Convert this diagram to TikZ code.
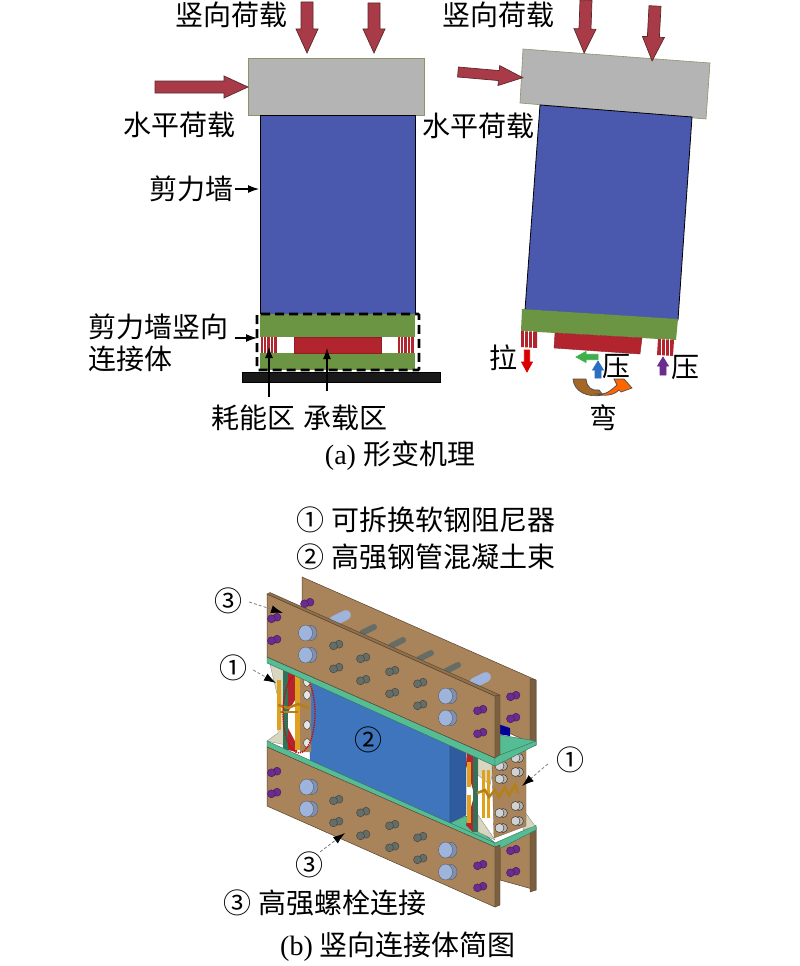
\documentclass[tikz,border=0pt]{standalone}
\usepackage{fontspec}
\setmainfont{Liberation Serif}
\newfontfamily\cjk{Noto Sans CJK SC}
\usetikzlibrary{arrows.meta,calc}
\definecolor{wallblue}{HTML}{4A58AE}
\definecolor{beamgray}{HTML}{B4B4B4}
\definecolor{beamedge}{HTML}{8C9468}
\definecolor{slabgreen}{HTML}{6B9443}
\definecolor{corered}{HTML}{B3252E}
\definecolor{loadred}{HTML}{A83B47}
\definecolor{loadedge}{HTML}{5A2A2A}
\definecolor{plate}{HTML}{A9845A}
\definecolor{plateside}{HTML}{7A6040}
\definecolor{teal}{HTML}{55BC94}
\definecolor{panel}{HTML}{3E75BC}
\definecolor{panelside}{HTML}{2F5C9C}
\definecolor{bpurple}{HTML}{6A2C8E}
\definecolor{bgray}{HTML}{666C66}
\definecolor{blight}{HTML}{9FB4DC}
\definecolor{brass}{HTML}{E0A020}
\definecolor{beige}{HTML}{D8D6BE}
\definecolor{pushgreen}{HTML}{3DB04B}
\definecolor{pushblue}{HTML}{2A6FC0}
\tikzset{
  lab/.style={inner sep=0pt,font=\fontsize{28}{28}\selectfont\cjk},
  labs/.style={inner sep=0pt,font=\fontsize{28}{28}\selectfont},
  thin arrow/.style={line width=1.1pt,-{Latex[length=11pt,width=8pt]}},
  leader/.style={draw=gray,line width=0.8pt,densely dashed,-{Latex[length=12pt,width=8pt,black]}},
  plateface/.style={fill=plate,draw=plateside!70!black,line width=0.5pt},
  sideface/.style={fill=plateside,draw=plateside!70!black,line width=0.4pt},
  greenface/.style={fill=teal,draw=teal!60!black,line width=0.4pt},
}
% tail x, tail y, canvas angle, length, half shaft, half head, head length, fill, draw
\newcommand{\barrow}[9]{%
  \begin{scope}[shift={(#1,#2)},rotate=#3]
    \filldraw[fill=#8,draw=#9,line width=0.7pt] (0,-#5) -- ({#4-#7},-#5) -- ({#4-#7},-#6) -- (#4,0) -- ({#4-#7},#6) -- ({#4-#7},#5) -- (0,#5) -- cycle;
  \end{scope}}
\newcommand{\bolt}[3]{% x,y,colour
  \filldraw[fill=#3,draw=#3!60!black,line width=0.4pt] (#1+3,#2-0.8) ellipse [x radius=4,y radius=4];
  \filldraw[fill=#3,draw=#3!60!black,line width=0.4pt] (#1-2.5,#2+0.8) ellipse [x radius=4,y radius=4];}
\newcommand{\bigbolt}[2]{% x,y
  \filldraw[fill=blight!80!black,draw=gray!70!black,line width=0.4pt] (#1+4,#2) ellipse [x radius=6,y radius=7.5];
  \filldraw[fill=blight,draw=gray!70!black,line width=0.4pt] (#1-1.5,#2) ellipse [x radius=7,y radius=8];}
\newcommand{\dambolt}[2]{% x,y
  \filldraw[fill=gray!60,draw=gray!30!black,line width=0.4pt] (#1+2,#2) ellipse [x radius=4.5,y radius=4.5];
  \filldraw[fill=gray!35,draw=gray!30!black,line width=0.4pt] (#1-1.5,#2) ellipse [x radius=4.5,y radius=4.5];}
\begin{document}
\begin{tikzpicture}[x=1pt,y=-1pt]
\useasboundingbox (0,0) rectangle (800,966);
\fill[white] (0,0) rectangle (800,966);

% ---------- (a) left
\filldraw[fill=beamgray,draw=beamedge,line width=0.6pt] (248,58) rectangle (424,115);
\filldraw[fill=wallblue,draw=black,line width=0.8pt] (260,115) rectangle (415,314);
\fill[slabgreen] (260,314) rectangle (415,337);
\fill[slabgreen] (260,353) rectangle (415,370);
\filldraw[fill=corered,draw=corered!80!black,line width=0.4pt] (294,337) rectangle (381,353);
\fill[corered] (261,337) rectangle (277,353);
\fill[corered] (398,337) rectangle (414,353);
\foreach \sx in {263,266.5,270,273.5,400,403.5,407,410.5}
  \draw[white,line width=1pt] (\sx,337) -- (\sx,353);
\filldraw[fill=black!90,draw=black] (242,372) rectangle (440,382);
\draw[black,line width=2.6pt,dash pattern=on 9pt off 5pt,rounded corners=1pt] (257,314) rectangle (419,370);

\barrow{307}{2}{-90}{51}{6}{11}{24}{loadred}{loadedge}
\barrow{374}{3}{-90}{50}{6}{11}{24}{loadred}{loadedge}
\barrow{155}{87}{0}{93}{6}{11}{24}{loadred}{loadedge}

\node[lab] (va) at (231,15) {竖向荷载};
\node[lab] (ha) at (179,125) {水平荷载};
\node[lab] (sw) at (191,189) {剪力墙};
\node[lab,anchor=west] (c1) at (88,327) {剪力墙竖向};
\node[lab,anchor=west] (c2) at (88,359) {连接体};
\node[lab] (hn) at (253,418) {耗能区};
\node[lab] (cz) at (345,418) {承载区};
\node[labs] (capa) at (400,456) {(a) {\cjk 形变机理}};
\coordinate (swt) at (259,189);
\coordinate (c1t) at (257,338);
\coordinate (hnt) at (269,347);
\coordinate (hnf) at (269,397);
\coordinate (czt) at (327,348);
\coordinate (czf) at (327,391);
\coordinate (c1f) at (235,338);
\draw[thin arrow] (sw.east) ++(2,0) -- (swt);
\draw[thin arrow] (c1f) -- (c1t);
\draw[thin arrow] (hnf) -- (hnt);
\draw[thin arrow] (czf) -- (czt);

% ---------- (a) right
\filldraw[fill=beamgray,draw=beamedge,line width=0.6pt] (523,49) -- (710,63) -- (706,119) -- (520,103) -- cycle;
\filldraw[fill=wallblue,draw=black,line width=0.8pt] (540,105) -- (692,117) -- (678,320) -- (525,310) -- cycle;
\fill[slabgreen] (522,309) -- (678,319) -- (676,340) -- (521,331) -- cycle;
\filldraw[fill=corered,draw=corered!80!black,line width=0.4pt] (555,333) -- (642,338) -- (640,354) -- (554,348) -- cycle;
\fill[corered] (521,331) -- (537,332) -- (537,348) -- (521,347) -- cycle;
\fill[corered] (658,339) -- (674,340) -- (673,356) -- (657,355) -- cycle;
\foreach \sx in {524,528,532}
  \draw[white,line width=1pt] (\sx,331) -- (\sx,348);
\foreach \sx in {661,665,669}
  \draw[white,line width=1pt] (\sx,339) -- (\sx,356);

\barrow{586}{0}{-92}{53}{6}{11}{24}{loadred}{loadedge}
\barrow{655}{6}{-93}{55}{6}{11}{24}{loadred}{loadedge}
\barrow{458}{72}{-5}{65}{5}{10}{24}{loadred}{loadedge}

\barrow{527}{350}{-90}{22}{2.7}{5.5}{10}{red!85!black}{red!85!black}
\barrow{598}{357}{180}{22}{2.7}{5.5}{10}{pushgreen}{pushgreen}
\barrow{598}{378}{90}{17}{3}{5.5}{9}{pushblue}{pushblue}
\barrow{663}{375}{90}{18}{3}{5.5}{9}{bpurple}{bpurple}

\filldraw[fill=brown!75!orange!80!black,draw=black!70,line width=0.7pt] (573,379) -- (586,379) .. controls (587,388) and (592,391) .. (599,390) -- (603,395) .. controls (588,398) and (574,392) .. (573,379) -- cycle;
\filldraw[fill=orange!80!red,draw=black!70,line width=0.7pt] (597,394) .. controls (607,395) and (611,390) .. (617,385) -- (614,379) -- (624,379) -- (632,388) -- (621,392) -- (619,390) .. controls (613,396) and (604,396) .. (597,394) -- cycle;

\node[lab] (vb) at (498,15) {竖向荷载};
\node[lab] (hb) at (478,126) {水平荷载};
\node[lab] (la) at (503,358) {拉};
\node[lab] (ya) at (616,367) {压};
\node[lab] (yb) at (685,368) {压};
\node[lab] (wa) at (603,418) {弯};

% ---------- (b) texts
\node[lab] (t1) at (426,520) {① 可拆换软钢阻尼器};
\node[lab] (t2) at (426,557) {② 高强钢管混凝土束};

% ---------- (b) back plates
\filldraw[plateface] (302,577) -- (536,680) -- (536,745) -- (302,642) -- cycle;
\filldraw[sideface] (530,679) -- (536,680) -- (536,745) -- (530,747) -- cycle;
\bolt{307}{603}{bpurple}
\bolt{513}{696}{bpurple}
\bolt{513}{718}{bpurple}
\filldraw[plateface] (500,847) -- (536,827) -- (536,890) -- (500,880) -- cycle;
\filldraw[sideface] (530,829) -- (536,827) -- (536,890) -- (530,892) -- cycle;
\bolt{513}{850}{bpurple}
\bolt{513}{872}{bpurple}

% rods between plates
\foreach \rx/\ry/\rc/\rw in {340/618/blight/10,368/630/bgray/6,397/643/bgray/6,425/656/bgray/6,452/668/bgray/6,480/680/blight/10}
  \draw[\rc,line width=\rw pt,line cap=round] (\rx-6,\ry+3) -- (\rx+6,\ry-3);

% upper slab top, panel
\filldraw[greenface] (500,735) -- (536,741) -- (495,762) -- (470,750) -- cycle;
\filldraw[fill=blue!60!black,draw=none] (498,724) -- (510,728) -- (510,736) -- (498,734) -- cycle;
\filldraw[fill=panel,draw=panel!70!black,line width=0.4pt] (310,678) -- (450,743) -- (450,823) -- (310,762) -- cycle;
\filldraw[fill=panelside,draw=panelside!70!black,line width=0.4pt] (450,743) -- (466,750) -- (466,815) -- (450,823) -- cycle;

% lower slab top
\filldraw[greenface] (450,823) -- (466,816) -- (480,830) -- (495,843) -- (536,825) -- (536,830) -- (497,850) -- cycle;

% ---------- left damper
\filldraw[fill=beige,draw=gray,line width=0.3pt] (269,660) -- (286,668) -- (286,745) -- (267,741) -- (278,733) -- (278,698) -- cycle;
\fill[teal!60!black] (283,668) rectangle (288,750);
\fill[corered] (288,670) -- (298,674) -- (295,700) -- (288,712) -- cycle;
\fill[corered] (288,728) -- (297,745) -- (297,752) -- (288,750) -- cycle;
\fill[plate] (300,675) -- (311,680) -- (311,752) -- (300,752) -- cycle;
\fill[brass] (277,680) rectangle (281,730);
\fill[brass] (295,673) rectangle (300,750);
\draw[brass!80!black,line width=2.5pt] (278,705) -- (288,708) -- (298,704) -- (309,708);
\draw[brass!80!black,line width=2pt] (280,712) -- (298,712);
\foreach \dy in {682,695,725,743} \filldraw[fill=gray!20,draw=gray!40!black,line width=0.4pt] (307,\dy) ellipse [x radius=3.5,y radius=4.5];
\draw[red!85!black,line width=1.3pt,densely dotted] (299,713) ellipse [x radius=16,y radius=40];

% ---------- right damper
\fill[corered] (467,750) -- (473,753) -- (473,790) -- (466,765) -- cycle;
\fill[corered] (466,825) -- (473,800) -- (473,832) -- cycle;
\fill[teal!60!black] (473,755) rectangle (478,832);
\filldraw[fill=beige,draw=gray,line width=0.3pt] (478,757) -- (495,762) -- (490,785) -- (478,775) -- cycle;
\filldraw[fill=beige,draw=gray,line width=0.3pt] (478,815) -- (495,840) -- (478,832) -- cycle;
\filldraw[fill=beige,draw=gray,line width=0.3pt] (525,812) -- (535,826) -- (523,830) -- cycle;
\fill[brass] (467,762) rectangle (471,787);
\fill[brass] (467,795) rectangle (471,823);
\fill[brass] (482,770) rectangle (485,818);
\fill[brass] (487,770) rectangle (490,818);
\filldraw[fill=plate,draw=plateside,line width=0.3pt] (492,764) -- (526,750) -- (526,826) -- (494,838) -- cycle;
\foreach \bx/\by in {501/766,517/758,501/779,517/772,517/806,501/813,517/821,501/828}
  \dambolt{\bx}{\by};
\draw[brass!80!black,line width=2.5pt] (477,793) -- (485,790) -- (489,797) -- (495,790) -- (499,797) -- (505,787) -- (509,795) -- (515,785) -- (518,793);

% ---------- front plates
\filldraw[greenface] (267,657) -- (495,758) -- (495,766) -- (267,663) -- cycle;
\filldraw[plateface] (267,594) -- (495,696) -- (495,758) -- (267,657) -- cycle;
\filldraw[fill=plate!85!black,draw=plateside!70!black,line width=0.4pt] (267,594) -- (270,592.5) -- (500,695) -- (495,696) -- cycle;
\filldraw[sideface] (495,696) -- (500,695) -- (500,755) -- (495,758) -- cycle;
\filldraw[greenface] (495,758) -- (500,755) -- (536,741) -- (536,745) -- (495,766) -- cycle;

\filldraw[greenface] (267,741) -- (495,843) -- (495,850) -- (267,747) -- cycle;
\filldraw[plateface] (267,747) -- (495,847) -- (495,907) -- (267,806) -- cycle;
\filldraw[sideface] (495,847) -- (500,845) -- (500,905) -- (495,907) -- cycle;

\foreach \bx/\by in {274/618,274/640,480/710,480/733,274/772,274/793,480/865,480/887}
  \bolt{\bx}{\by}{bpurple};
\foreach \bx/\by in {307/633,307/655,447/696,447/718,308/787,308/809,447/850,447/872}
  \bigbolt{\bx}{\by};
\foreach \bx/\by in {336/645,336/668,363/658,363/680,392/671,392/693,420/683,420/705,336/800,336/822,363/812,363/835,392/825,392/847,420/837,420/859}
  \bolt{\bx}{\by}{bgray};

% ---------- (b) labels
\node[lab] (c3a) at (228,601) {③};
\node[lab] (c1a) at (233,668) {①};
\node[lab] (c2a) at (368,740) {②};
\node[lab] (c1b) at (570,760) {①};
\node[lab] (c3b) at (309,865) {③};
\node[lab] (t3) at (325,903) {③ 高强螺栓连接};
\node[labs] (capb) at (398,947) {(b) {\cjk 竖向连接体简图}};
\coordinate (c3at) at (283,613);
\coordinate (c1at) at (276,683);
\coordinate (c1bt) at (522,786);
\coordinate (c3bt) at (345,833);
\draw[leader] (c3a.east) ++(7,1) -- (c3at);
\draw[leader] (c1a.east) ++(6,2) -- (c1at);
\draw[leader] (c1b.west) ++(-8,4) -- (c1bt);
\draw[leader] (c3b.north east) ++(-3,0) -- (c3bt);
\end{tikzpicture}
\end{document}
